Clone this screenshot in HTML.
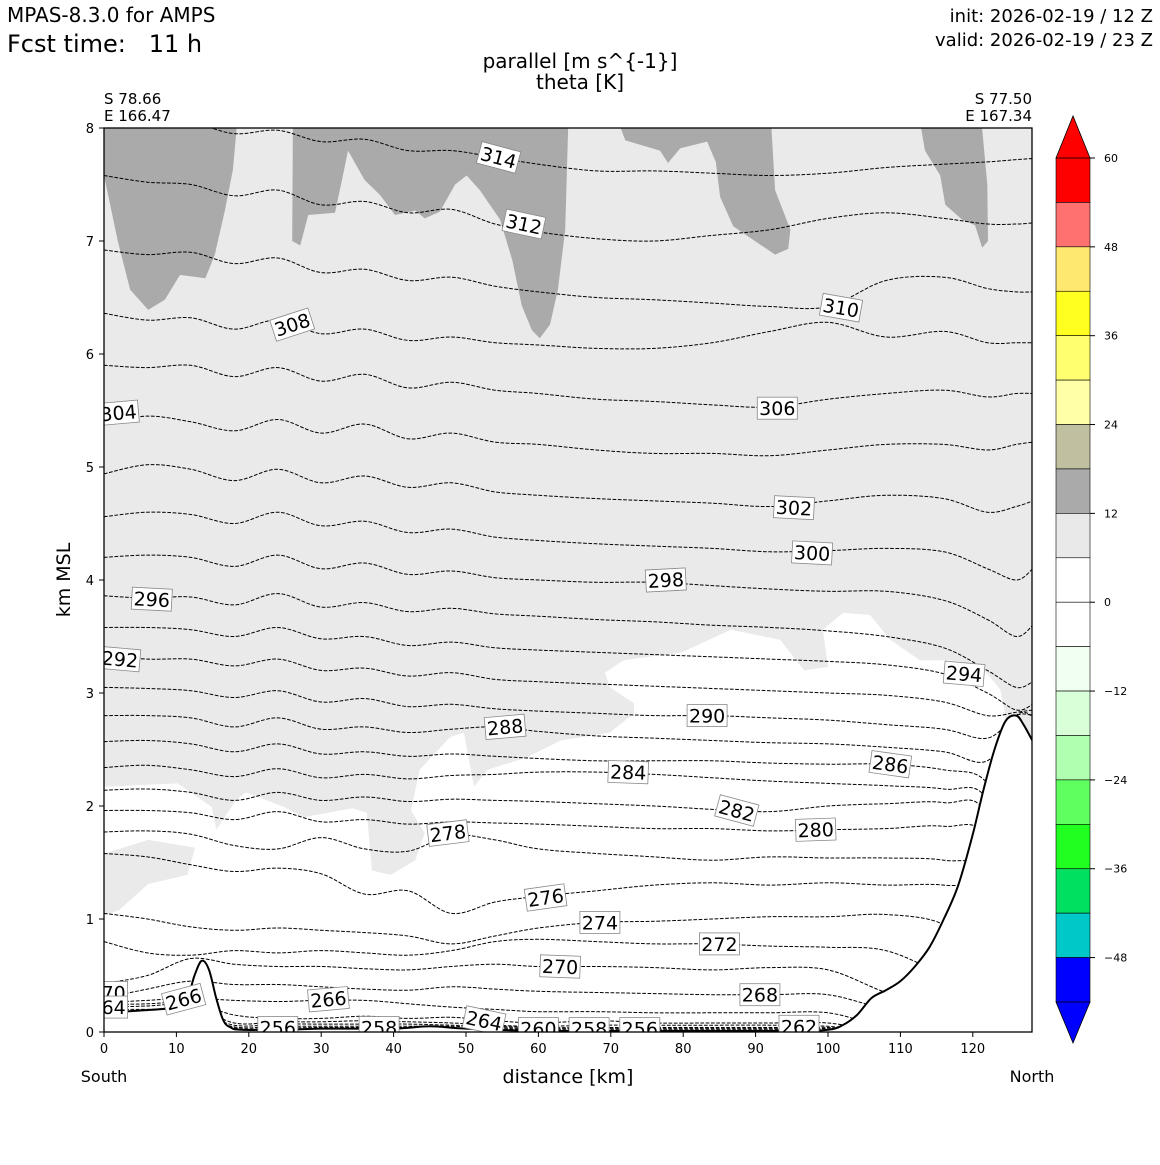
<!DOCTYPE html>
<html><head><meta charset="utf-8"><style>
body{margin:0;background:#fff}
svg text{font-family:"DejaVu Sans","Liberation Sans",sans-serif}
</style></head><body>
<svg id="chart" width="1160" height="1160" viewBox="0 0 1160 1160" xmlns="http://www.w3.org/2000/svg">
<text x="7" y="22" font-size="20">MPAS-8.3.0 for AMPS</text>
<text x="7" y="52" font-size="24" xml:space="preserve">Fcst time:   11 h</text>
<text x="1153" y="22" font-size="18" text-anchor="end">init: 2026-02-19 / 12 Z</text>
<text x="1153" y="46" font-size="18" text-anchor="end">valid: 2026-02-19 / 23 Z</text>
<text x="580" y="68" font-size="20" text-anchor="middle">parallel [m s^{-1}]</text>
<text x="580" y="89" font-size="20" text-anchor="middle">theta [K]</text>
<text x="104" y="104" font-size="15">S 78.66</text>
<text x="104" y="121" font-size="15">E 166.47</text>
<text x="1032" y="104" font-size="15" text-anchor="end">S 77.50</text>
<text x="1032" y="121" font-size="15" text-anchor="end">E 167.34</text>
<text x="104" y="1082" font-size="16" text-anchor="middle">South</text>
<text x="1032" y="1082" font-size="16" text-anchor="middle">North</text>
<text x="568" y="1083" font-size="19" text-anchor="middle">distance [km]</text>
<text transform="translate(70,580) rotate(-90)" font-size="19" text-anchor="middle">km MSL</text>
<defs><clipPath id="pc"><rect x="104" y="128" width="928" height="904"/></clipPath></defs>
<g id="plot" clip-path="url(#pc)"></g>
<g id="labels" clip-path="url(#pc)"></g>
<rect x="104" y="128" width="928" height="904" fill="none" stroke="#000" stroke-width="1.3"/>
<g id="axes"></g>
<g id="cbar"></g>
</svg>
<script>
const NS="http://www.w3.org/2000/svg";
const X=[0,6,12,18,24,30,36,42,48,54,60,68,76,84,92,100,108,116,122,126,128.3];
const levels=[314,312,310,308,306,304,302,300,298,296,294,292,290,288,286,284,282,280,278,276,274,272,270,268,266,264,262,260,258,256];
const h314=[8.15,8.08,8.05,7.95,7.98,7.88,7.9,7.8,7.8,7.74,7.68,7.62,7.62,7.6,7.58,7.6,7.65,7.68,7.7,7.72,7.73];
const h312=[7.58,7.52,7.5,7.4,7.45,7.32,7.35,7.25,7.28,7.15,7.08,7.02,7.0,7.05,7.1,7.2,7.25,7.2,7.15,7.15,7.16];
const h310=[6.92,6.88,6.9,6.8,6.85,6.72,6.75,6.65,6.68,6.6,6.55,6.5,6.48,6.45,6.42,6.42,6.65,6.68,6.58,6.55,6.55];
const h308=[6.36,6.3,6.32,6.22,6.3,6.18,6.22,6.12,6.15,6.1,6.08,6.05,6.05,6.1,6.2,6.28,6.15,6.2,6.1,6.1,6.1];
const h306=[5.9,5.88,5.9,5.8,5.88,5.76,5.82,5.7,5.75,5.68,5.65,5.6,5.58,5.55,5.53,5.6,5.65,5.68,5.62,5.65,5.65];
const h304=[5.38,5.45,5.4,5.32,5.42,5.3,5.38,5.25,5.3,5.22,5.2,5.15,5.12,5.12,5.1,5.15,5.2,5.2,5.15,5.2,5.22];
const h302=[4.94,5.02,4.98,4.88,4.98,4.86,4.92,4.82,4.86,4.78,4.75,4.72,4.7,4.68,4.65,4.7,4.75,4.72,4.6,4.65,4.7];
const h300=[4.56,4.6,4.58,4.5,4.6,4.48,4.52,4.42,4.45,4.38,4.35,4.32,4.3,4.28,4.25,4.26,4.28,4.25,4.1,4.0,4.1];
const h298=[4.2,4.22,4.2,4.12,4.22,4.1,4.15,4.05,4.08,4.02,4.0,3.98,3.98,3.95,3.92,3.9,3.9,3.82,3.65,3.5,3.6];
const h296=[3.86,3.84,3.85,3.78,3.88,3.76,3.8,3.72,3.75,3.7,3.68,3.65,3.63,3.6,3.58,3.55,3.5,3.4,3.2,3.05,3.1];
const h294=[3.58,3.58,3.56,3.5,3.58,3.48,3.5,3.42,3.45,3.4,3.38,3.36,3.34,3.32,3.3,3.28,3.25,3.17,3.0,2.85,2.9];
const h292=[3.33,3.3,3.3,3.24,3.3,3.2,3.22,3.15,3.18,3.12,3.1,3.08,3.06,3.04,3.02,3.0,2.98,2.92,2.8,2.83,2.85];
const h290=[3.05,3.04,3.02,2.96,3.02,2.92,2.95,2.88,2.9,2.86,2.84,2.82,2.8,2.8,2.78,2.76,2.72,2.68,2.6,2.8,2.8];
const h288=[2.8,2.8,2.78,2.7,2.78,2.68,2.7,2.65,2.68,2.7,2.66,2.62,2.6,2.58,2.56,2.55,2.52,2.48,2.4,2.8,2.8];
const h286=[2.57,2.58,2.55,2.48,2.55,2.46,2.48,2.44,2.46,2.44,2.42,2.4,2.4,2.4,2.38,2.37,2.37,2.32,2.2,1.5,1.5];
const h284=[2.34,2.36,2.32,2.26,2.33,2.25,2.28,2.24,2.27,2.28,2.3,2.3,2.28,2.25,2.22,2.2,2.18,2.15,2.05,1.0,1.0];
const h282=[2.14,2.15,2.12,2.05,2.12,2.05,2.08,2.04,2.06,2.05,2.04,2.02,2.0,1.97,1.95,2.0,2.02,2.03,1.9,0.5,0.5];
const h280=[1.96,1.96,1.94,1.88,1.95,1.86,1.88,1.84,1.86,1.85,1.84,1.82,1.8,1.8,1.78,1.79,1.8,1.82,1.7,0.5,0.5];
const h278=[1.77,1.78,1.75,1.65,1.62,1.72,1.62,1.6,1.74,1.7,1.62,1.58,1.55,1.52,1.55,1.54,1.54,1.52,1.4,0.5,0.5];
const h276=[1.58,1.55,1.48,1.42,1.45,1.4,1.22,1.25,1.05,1.15,1.2,1.25,1.3,1.32,1.3,1.32,1.3,1.3,1.2,0.5,0.5];
const h274=[1.05,1.0,0.93,0.9,0.92,0.9,0.88,0.85,0.78,0.85,0.92,0.97,0.98,1.0,1.02,1.02,1.04,0.95,0.6,0.3,0.3];
const h272=[0.8,0.7,0.68,0.72,0.7,0.72,0.7,0.68,0.72,0.8,0.82,0.8,0.78,0.78,0.76,0.75,0.72,0.5,0.3,0.3,0.3];
const h270=[0.43,0.5,0.65,0.6,0.58,0.58,0.56,0.55,0.58,0.6,0.58,0.58,0.57,0.55,0.57,0.55,0.35,0.2,0.2,0.2,0.2];
const h268=[0.3,0.38,0.45,0.42,0.42,0.4,0.38,0.37,0.4,0.38,0.36,0.35,0.34,0.33,0.33,0.33,0.2,0.1,0.1,0.1,0.1];
const h266=[0.26,0.28,0.3,0.28,0.27,0.28,0.28,0.25,0.22,0.2,0.18,0.18,0.17,0.17,0.17,0.17,0.05,0.05,0.05,0.05,0.05];
const h264=[0.24,0.25,0.26,0.15,0.12,0.12,0.14,0.12,0.13,0.1,0.08,0.1,0.08,0.08,0.08,0.08,0,0,0,0,0];
const h262=[0.22,0.23,0.24,0.08,0.09,0.09,0.1,0.09,0.08,0.06,0.05,0.06,0.06,0.06,0.06,0.05,0,0,0,0,0];
const h260=[0.2,0.2,0.2,0.06,0.07,0.07,0.07,0.07,0.06,0.05,0.04,0.04,0.04,0.04,0.04,0.04,0,0,0,0,0];
const h258=[0.18,0.18,0.18,0.045,0.05,0.05,0.05,0.05,0.05,0.04,0.03,0.03,0.03,0.03,0.03,0.03,0,0,0,0,0];
const h256=[0.16,0.16,0.16,0.035,0.035,0.04,0.04,0.04,0.035,0.03,0.02,0.02,0.02,0.02,0.02,0.02,0,0,0,0,0];
const contourHeights=[h314,h312,h310,h308,h306,h304,h302,h300,h298,h296,h294,h292,h290,h288,h286,h284,h282,h280,h278,h276,h274,h272,h270,h268,h266,h264,h262,h260,h258,h256];
const terrainKm=[0,5,10,11.5,12.5,13.5,14.5,15.5,16.5,17.5,19,25,30,40,45,50,60,80,95,100,102,104,106,108,110,112,114,116,118,120,121.5,123,124.5,126,127,128.3];
const terrainH=[0.17,0.19,0.22,0.3,0.5,0.63,0.55,0.3,0.1,0.04,0.02,0.02,0.03,0.03,0.05,0.03,0.01,0.01,0.01,0.02,0.06,0.15,0.3,0.37,0.45,0.58,0.75,1.0,1.3,1.75,2.15,2.5,2.75,2.8,2.72,2.57];
const whiteRegion=[[0,2.17],[10.2,2.2],[14.9,1.99],[15.5,1.79],[18.2,2.05],[19.6,2.12],[24.9,1.99],[27.6,1.9],[34.3,1.98],[36.3,1.94],[37,1.43],[39.6,1.39],[43,1.52],[44.3,1.76],[42.4,1.96],[43.6,2.32],[47.8,2.61],[49.7,2.65],[50.4,2.41],[51.1,2.17],[53,2.32],[58.4,2.43],[63.1,2.58],[69.9,2.65],[73.2,2.82],[73.2,2.91],[69.9,3.05],[69.2,3.18],[71.8,3.29],[79.8,3.36],[86.6,3.56],[93.4,3.47],[96.7,3.2],[100,3.23],[99.3,3.56],[102.1,3.71],[105.8,3.69],[108.6,3.47],[112.7,3.29],[116.9,3.29],[121,3.25],[123.8,3.03],[124.4,2.83],[124.4,0],[0,0]];
const grayBump=[[0,1.58],[6.1,1.7],[12.6,1.63],[11.5,1.39],[6.1,1.31],[2.1,1.08],[0,1.03]];
const darkA=[[0,8.2],[0,7.58],[1.9,7.0],[3.6,6.57],[6.1,6.39],[8.4,6.48],[10.5,6.7],[14,6.67],[15.3,6.88],[16.7,7.27],[17.8,7.63],[18.6,8.2]];
const darkB=[[26.1,8.2],[26,7.0],[27.1,6.96],[28.2,7.23],[31.9,7.25],[33,7.58],[33.7,7.8],[36,7.54],[38.1,7.41],[40.2,7.23],[43,7.27],[44.3,7.2],[46.4,7.26],[48.5,7.5],[50.1,7.58],[51.9,7.45],[54.7,7.19],[56.4,6.83],[57.7,6.43],[59.1,6.21],[60.2,6.14],[61.6,6.26],[62.7,6.57],[63.7,7.1],[64.2,8.2]];
const darkC=[[70.2,8.2],[72,7.89],[76.8,7.8],[77.9,7.69],[79.6,7.82],[83.3,7.88],[84.5,7.7],[85.1,7.39],[86.9,7.13],[89.9,7.0],[92.7,6.88],[94.5,6.93],[94.8,7.1],[92.7,7.45],[92,8.2]];
const darkD=[[112.3,8.2],[113.4,7.8],[115.5,7.58],[116.2,7.32],[118.5,7.19],[120.3,7.14],[121.3,6.94],[122.1,7.0],[122,7.5],[121,8.2]];
const labelLevels=[314,312,310,308,306,304,302,300,298,296,294,292,290,288,286,284,282,280,278,276,274,272,270,268,266,266,264,262,260,258,258,256,256,270,264];
const labelKm=[54.5,58,101.8,26,93,2,95.3,97.8,77.6,6.6,118.8,2.2,83.3,55.4,108.6,72.4,87.4,98.3,47.5,61,68.5,85,63,90.6,11,31,52.5,96,60,38,67,24,74,0.5,0.5];
const labelH=[7.74,7.15,6.41,6.26,5.52,5.48,4.64,4.24,4.0,3.83,3.17,3.3,2.8,2.7,2.37,2.3,1.96,1.79,1.76,1.19,0.97,0.78,0.58,0.33,0.29,0.29,0.1,0.05,0.03,0.04,0.03,0.04,0.03,0.35,0.22];
const labelAngle=[15,12,10,-18,0,-5,3,3,-3,3,5,5,0,-5,8,2,15,-2,-7,-8,0,0,2,0,-15,-5,12,0,0,0,0,0,0,0,0];
const cbLevels=[60,54,48,42,36,30,24,18,12,6,0,-6,-12,-18,-24,-30,-36,-42,-48,-54];
const cbColors=["#ff0000","#ff7070","#ffe870","#ffff20","#ffff70","#ffffa8","#c0c0a0","#aaaaaa","#e9e9e9","#ffffff","#ffffff","#f0fff0","#d8ffd8","#b0ffb0","#60ff60","#20ff20","#00e060","#00c8c8","#0000ff"];
const cbTicks=[60,48,36,24,12,0,-12,-24,-36,-48];
const xTicks=[0,10,20,30,40,50,60,70,80,90,100,110,120];
const yTicks=[0,1,2,3,4,5,6,7,8];

const xs=k=>104+k*7.24;
const ys=h=>1032-h*113;
const cy=v=>158+(60-v)*(844/114);
function el(t,a,p){const e=document.createElementNS(NS,t);for(const k in a)e.setAttribute(k,a[k]);p.appendChild(e);return e;}
function poly(pts){return pts.map(p=>xs(p[0]).toFixed(1)+","+ys(p[1]).toFixed(1)).join(" ");}
function smooth(P){let d="M"+P[0][0].toFixed(1)+","+P[0][1].toFixed(1);
 for(let i=0;i<P.length-1;i++){const p0=P[Math.max(0,i-1)],p1=P[i],p2=P[i+1],p3=P[Math.min(P.length-1,i+2)];
 const c1=[p1[0]+(p2[0]-p0[0])/6,p1[1]+(p2[1]-p0[1])/6],c2=[p2[0]-(p3[0]-p1[0])/6,p2[1]-(p3[1]-p1[1])/6];
 d+=" C"+c1[0].toFixed(1)+","+c1[1].toFixed(1)+" "+c2[0].toFixed(1)+","+c2[1].toFixed(1)+" "+p2[0].toFixed(1)+","+p2[1].toFixed(1);}return d;}
const plot=document.getElementById("plot");
let e=el("rect",{x:104,y:128,width:928,height:904,fill:"#eaeaea"},plot);


e=el("polygon",{points:poly(whiteRegion),fill:"#ffffff"},plot);


e=el("polygon",{points:poly(grayBump),fill:"#eaeaea"},plot);


[darkA,darkB,darkC,darkD].forEach(d=>{const p=el("polygon",{points:poly(d),fill:"#aaaaaa"},plot);

});
contourHeights.forEach((hs,i)=>{const P=X.map((k,j)=>[xs(k),ys(hs[j])]);
 const p=el("path",{d:smooth(P),fill:"none",stroke:"#000","stroke-width":1,"stroke-dasharray":"3.7,1.6"},plot);
 
 });
const tp=terrainKm.map((k,i)=>[xs(k),ys(terrainH[i])]);
const td=smooth(tp);
e=el("path",{d:td+" L1040,1040 L100,1040 Z",fill:"#fff"},plot);


e=el("path",{d:td,fill:"none",stroke:"#000","stroke-width":2},plot);


const lg=document.getElementById("labels");
labelLevels.forEach((lv,i)=>{const g=el("g",{transform:`translate(${xs(labelKm[i]).toFixed(1)},${ys(labelH[i]).toFixed(1)}) rotate(${labelAngle[i]})`},lg);
 
 
 el("rect",{x:-20,y:-11,width:40,height:22,fill:"#fff",stroke:"#888","stroke-width":0.8},g);
 const t=el("text",{x:0,y:7,"font-size":19,"text-anchor":"middle"},g);t.textContent=lv;});
const ax=document.getElementById("axes");
xTicks.forEach(v=>{const x=xs(v);el("line",{x1:x,y1:1032,x2:x,y2:1037,stroke:"#000"},ax);
 const t=el("text",{x:x,y:1053,"font-size":13,"text-anchor":"middle"},ax);t.textContent=v;
 
 });
yTicks.forEach(v=>{const y=ys(v);el("line",{x1:99,y1:y,x2:104,y2:y,stroke:"#000"},ax);
 const t=el("text",{x:94,y:y+5,"font-size":13,"text-anchor":"end"},ax);t.textContent=v;
 
 });
const cb=document.getElementById("cbar");
cbColors.forEach((c,i)=>{const y1=cy(cbLevels[i]),y2=cy(cbLevels[i+1]);
 const r=el("rect",{x:1056,y:y1,width:34,height:y2-y1,fill:c,stroke:"#000","stroke-width":0.6},cb);
 
 });
e=el("polygon",{points:`1056,${cy(60)} 1073,116 1090,${cy(60)}`,fill:"#ff0000",stroke:"#000","stroke-width":0.8},cb);


e=el("polygon",{points:`1056,${cy(-54)} 1073,1043 1090,${cy(-54)}`,fill:"#0000ff",stroke:"#000","stroke-width":0.8},cb);


cbTicks.forEach(v=>{const y=cy(v);el("line",{x1:1090,y1:y,x2:1095,y2:y,stroke:"#000"},cb);
 const t=el("text",{x:1104,y:y+4,"font-size":11},cb);t.textContent=(v<0?"\u2212"+(-v):v);
 
 });
</script>
</body></html>
